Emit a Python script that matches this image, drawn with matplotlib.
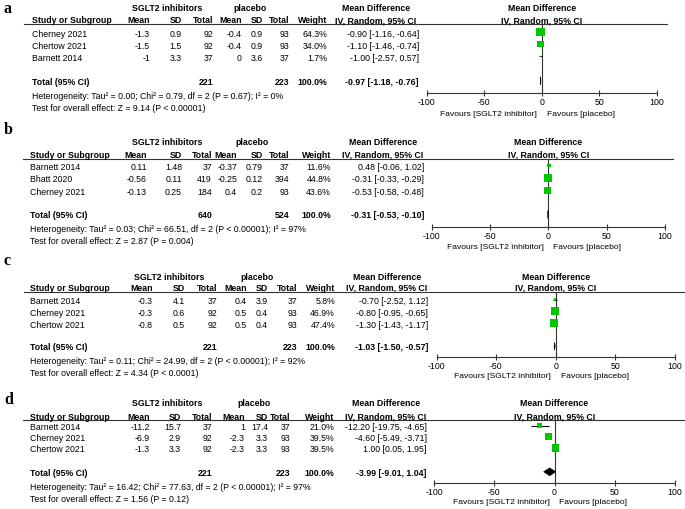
import numpy as np
import matplotlib
matplotlib.use("Agg")
import matplotlib.pyplot as plt
from matplotlib.patches import Polygon
from matplotlib.transforms import blended_transform_factory

plt.rcParams['font.family'] = ['Liberation Sans', 'DejaVu Sans']
plt.rcParams['axes.unicode_minus'] = False

# ---- panel a : data ----
a_study = ["Cherney 2021", "Chertow 2021", "Barnett 2014"]
a_exp_mean = [-1.3, -1.5, -1]
a_exp_sd = [0.9, 1.5, 3.3]
a_exp_n = [92, 92, 37]
a_ctl_mean = [-0.4, -0.4, 0]
a_ctl_sd = [0.9, 0.9, 3.6]
a_ctl_n = [93, 93, 37]
a_weight = [64.3, 34.0, 1.7]
a_md = [-0.90, -1.10, -1.00]
a_lo = [-1.16, -1.46, -2.57]
a_hi = [-0.64, -0.74, 0.57]
a_tot_n = [221, 223]
a_tot_md = [-0.97, -1.18, -0.76]
a_het = "Heterogeneity: Tau² = 0.00; Chi² = 0.79, df = 2 (P = 0.67); I² = 0%"
a_test = "Test for overall effect: Z = 9.14 (P < 0.00001)"

# ---- panel b ----
b_study = ["Barnett 2014", "Bhatt 2020", "Cherney 2021"]
b_exp_mean = [0.11, -0.56, -0.13]
b_exp_sd = [1.48, 0.11, 0.25]
b_exp_n = [37, 419, 184]
b_ctl_mean = [-0.37, -0.25, 0.4]
b_ctl_sd = [0.79, 0.12, 0.2]
b_ctl_n = [37, 394, 93]
b_weight = [11.6, 44.8, 43.6]
b_md = [0.48, -0.31, -0.53]
b_lo = [-0.06, -0.33, -0.58]
b_hi = [1.02, -0.29, -0.48]
b_tot_n = [640, 524]
b_tot_md = [-0.31, -0.53, -0.10]
b_het = "Heterogeneity: Tau² = 0.03; Chi² = 66.51, df = 2 (P < 0.00001); I² = 97%"
b_test = "Test for overall effect: Z = 2.87 (P = 0.004)"

# ---- panel c ----
c_study = ["Barnett 2014", "Cherney 2021", "Chertow 2021"]
c_exp_mean = [-0.3, -0.3, -0.8]
c_exp_sd = [4.1, 0.6, 0.5]
c_exp_n = [37, 92, 92]
c_ctl_mean = [0.4, 0.5, 0.5]
c_ctl_sd = [3.9, 0.4, 0.4]
c_ctl_n = [37, 93, 93]
c_weight = [5.8, 46.9, 47.4]
c_md = [-0.70, -0.80, -1.30]
c_lo = [-2.52, -0.95, -1.43]
c_hi = [1.12, -0.65, -1.17]
c_tot_n = [221, 223]
c_tot_md = [-1.03, -1.50, -0.57]
c_het = "Heterogeneity: Tau² = 0.11; Chi² = 24.99, df = 2 (P < 0.00001); I² = 92%"
c_test = "Test for overall effect: Z = 4.34 (P < 0.0001)"

# ---- panel d ----
d_study = ["Barnett 2014", "Cherney 2021", "Chertow 2021"]
d_exp_mean = [-11.2, -6.9, -1.3]
d_exp_sd = [15.7, 2.9, 3.3]
d_exp_n = [37, 92, 92]
d_ctl_mean = [1, -2.3, -2.3]
d_ctl_sd = [17.4, 3.3, 3.3]
d_ctl_n = [37, 93, 93]
d_weight = [21.0, 39.5, 39.5]
d_md = [-12.20, -4.60, 1.00]
d_lo = [-19.75, -5.49, 0.05]
d_hi = [-4.65, -3.71, 1.95]
d_tot_n = [221, 223]
d_tot_md = [-3.99, -9.01, 1.04]
d_het = "Heterogeneity: Tau² = 16.42; Chi² = 77.63, df = 2 (P < 0.00001); I² = 97%"
d_test = "Test for overall effect: Z = 1.56 (P = 0.12)"

xticks = [-100, -50, 0, 50, 100]
col_names = ["Mean", "SD", "Total", "Mean", "SD", "Total", "Weight"]

panels = [
    dict(tag="a", study=a_study, em=a_exp_mean, es=a_exp_sd, en=a_exp_n, cm=a_ctl_mean, cs=a_ctl_sd,
         cn=a_ctl_n, w=a_weight, md=a_md, lo=a_lo, hi=a_hi, tn=a_tot_n, tmd=a_tot_md, het=a_het, test=a_test),
    dict(tag="b", study=b_study, em=b_exp_mean, es=b_exp_sd, en=b_exp_n, cm=b_ctl_mean, cs=b_ctl_sd,
         cn=b_ctl_n, w=b_weight, md=b_md, lo=b_lo, hi=b_hi, tn=b_tot_n, tmd=b_tot_md, het=b_het, test=b_test),
    dict(tag="c", study=c_study, em=c_exp_mean, es=c_exp_sd, en=c_exp_n, cm=c_ctl_mean, cs=c_ctl_sd,
         cn=c_ctl_n, w=c_weight, md=c_md, lo=c_lo, hi=c_hi, tn=c_tot_n, tmd=c_tot_md, het=c_het, test=c_test),
    dict(tag="d", study=d_study, em=d_exp_mean, es=d_exp_sd, en=d_exp_n, cm=d_ctl_mean, cs=d_ctl_sd,
         cn=d_ctl_n, w=d_weight, md=d_md, lo=d_lo, hi=d_hi, tn=d_tot_n, tmd=d_tot_md, het=d_het, test=d_test),
]

# layout in pixels of the 685x509 picture (y measured from the top)
layouts = [
    dict(lab=9, h1=8.5, h2=20.7, line=23.5, rows=[34, 46, 58.3], tot=82.3, het=96, test=108,
         axis=92.7, fav=114.5, xm=426.5, xp=657, l0=24, l1=667, sx=32,
         cols=[150, 182, 213, 242, 263, 289, 327.5, 419], g1=167, g2=250, mdc=376),
    dict(lab=130, h1=142.5, h2=155, line=158.5, rows=[167.5, 180, 192.5], tot=216, het=230, test=242,
         axis=227, fav=247.5, xm=431.7, xp=665, l0=23, l1=673, sx=30,
         cols=[147, 182, 212, 237, 263, 289, 331, 424], g1=167, g2=252, mdc=383),
    dict(lab=261, h1=277, h2=288.5, line=292.3, rows=[301.7, 313.3, 325], tot=347.7, het=361, test=373,
         axis=356.7, fav=376, xm=436.7, xp=675, l0=24, l1=684, sx=30,
         cols=[153, 185, 217, 247, 268, 297, 335, 428.3], g1=169, g2=257, mdc=387),
    dict(lab=400, h1=404, h2=417, line=420, rows=[427.5, 438.5, 450], tot=473.3, het=487, test=499.3,
         axis=483.3, fav=502.3, xm=434, xp=675, l0=23, l1=685, sx=30,
         cols=[150, 181, 212, 245, 268, 290, 334, 426.7], g1=167, g2=254, mdc=386),
]

W, H = 685, 509
FS = 6.3
GREEN = "#00c800"
LINE = "#333333"

fig = plt.figure(figsize=(W / 100, H / 100), dpi=100)
bg = fig.add_axes([0, 0, 1, 1])
bg.set_xlim(0, W)
bg.set_ylim(H, 0)
bg.axis("off")


def ci_text(m, lo, hi):
    return f"{m:.2f} [{lo:.2f}, {hi:.2f}]"


for p, L in zip(panels, layouts):
    hb = dict(size=FS, weight="bold", va="center")
    nb = dict(size=FS, va="center")
    cols = L["cols"]

    bg.text(4, L["lab"], p["tag"], family="Liberation Serif", weight="bold", size=11.5,
            va="center", ha="left")

    # table header
    bg.text(L["g1"], L["h1"], "SGLT2 inhibitors", ha="center", **hb)
    bg.text(L["g2"], L["h1"], "placebo", ha="center", **hb)
    bg.text(L["mdc"], L["h1"], "Mean Difference", ha="center", **hb)
    bg.text(L["sx"], L["h2"], "Study or Subgroup", ha="left", **hb)
    for name, x in zip(col_names, cols[:7]):
        bg.text(x, L["h2"], name, ha="right", **hb)
    bg.text(L["mdc"], L["h2"], "IV, Random, 95% CI", ha="center", **hb)
    bg.plot([L["l0"], L["l1"]], [L["line"], L["line"]], color=LINE, lw=0.8)

    # study rows
    for i, y in enumerate(L["rows"]):
        vals = [f"{p['em'][i]:g}", f"{p['es'][i]:g}", f"{p['en'][i]}",
                f"{p['cm'][i]:g}", f"{p['cs'][i]:g}", f"{p['cn'][i]}",
                f"{p['w'][i]:.1f}%", ci_text(p["md"][i], p["lo"][i], p["hi"][i])]
        bg.text(L["sx"], y, p["study"][i], ha="left", **nb)
        for v, x in zip(vals, cols):
            bg.text(x, y, v, ha="right", **nb)

    # total row and footnotes
    bg.text(L["sx"], L["tot"], "Total (95% CI)", ha="left", **hb)
    bg.text(cols[2], L["tot"], f"{p['tn'][0]}", ha="right", **hb)
    bg.text(cols[5], L["tot"], f"{p['tn'][1]}", ha="right", **hb)
    bg.text(cols[6], L["tot"], "100.0%", ha="right", **hb)
    bg.text(cols[7], L["tot"], ci_text(*p["tmd"]), ha="right", **hb)
    bg.text(L["sx"], L["het"], p["het"], ha="left", **nb)
    bg.text(L["sx"], L["test"], p["test"], ha="left", **nb)

    # forest plot
    ax = fig.add_axes([L["xm"] / W, 1 - L["axis"] / H, (L["xp"] - L["xm"]) / W,
                       (L["axis"] - L["line"]) / H])
    ax.set_xlim(-100, 100)
    ax.set_ylim(L["axis"], L["line"])
    ax.patch.set_visible(False)
    for s in ["top", "right", "left"]:
        ax.spines[s].set_visible(False)
    ax.spines["bottom"].set_color(LINE)
    ax.spines["bottom"].set_linewidth(0.8)
    ax.set_xticks(xticks)
    ax.set_yticks([])
    ax.tick_params(axis="x", direction="inout", length=5, width=0.8, color=LINE,
                   labelsize=6.3, pad=1)
    ax.axvline(0, color=LINE, lw=0.8)

    ry = np.array(L["rows"]) - 2
    ax.hlines(ry, p["lo"], p["hi"], color="black", lw=0.8, zorder=2)
    sizes = [(1.12 * np.sqrt(w) * 0.72) ** 2 for w in p["w"]]
    ax.scatter(p["md"], ry, marker="s", s=sizes, color=GREEN, edgecolors="none", zorder=3)

    m, lo, hi = p["tmd"]
    yd = L["tot"] - 1.5
    ax.add_patch(Polygon([(lo, yd), (m, yd - 4), (hi, yd), (m, yd + 4)], closed=True,
                         facecolor="black", edgecolor="black", lw=0.4, zorder=3))

    blend = blended_transform_factory(ax.transData, bg.transData)
    ax.text(0, L["h1"], "Mean Difference", transform=blend, ha="center", **hb)
    ax.text(0, L["h2"], "IV, Random, 95% CI", transform=blend, ha="center", **hb)
    ax.annotate("Favours [SGLT2 inhibitor]", xy=(0, L["fav"]), xycoords=blend,
                xytext=(-3.5, 0), textcoords="offset points", ha="right", va="center", size=6.1)
    ax.annotate("Favours [placebo]", xy=(0, L["fav"]), xycoords=blend,
                xytext=(3.5, 0), textcoords="offset points", ha="left", va="center", size=6.1)

fig.savefig("out.png", dpi=100)
